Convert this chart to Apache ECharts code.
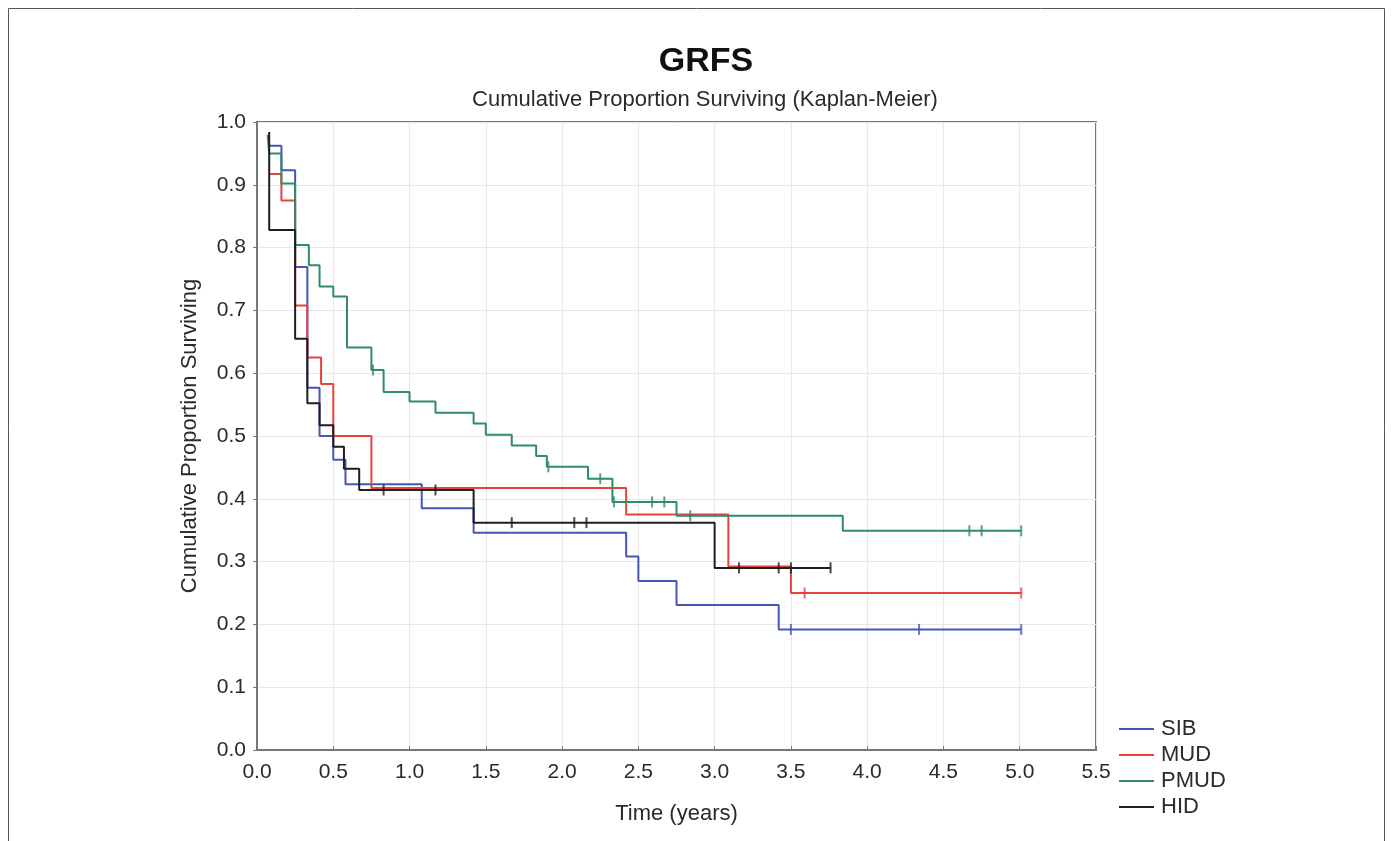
<!DOCTYPE html>
<html>
<head>
<meta charset="utf-8">
<title>GRFS</title>
<script src="https://cdn.jsdelivr.net/npm/echarts@6/dist/echarts.min.js"></script>
<style>
  html, body { margin: 0; padding: 0; background: #ffffff; }
  #chart { width: 1392px; height: 841px; }
</style>
</head>
<body>
<div id="chart"></div>
<script>
// Kaplan-Meier step points: time (years) and proportion surviving after each step
var sibTime = [0.08, 0.16, 0.25, 0.33, 0.41, 0.50, 0.58, 1.08, 1.42, 2.42, 2.50, 2.75, 3.42, 5.01];
var sibSurv = [0.962, 0.923, 0.769, 0.577, 0.500, 0.462, 0.423, 0.385, 0.346, 0.308, 0.269, 0.231, 0.192, 0.192];
var sibCensor = [3.50, 4.34, 5.01];

var mudTime = [0.08, 0.16, 0.25, 0.33, 0.42, 0.50, 0.75, 2.42, 3.09, 3.50, 5.01];
var mudSurv = [0.917, 0.875, 0.708, 0.625, 0.583, 0.500, 0.417, 0.375, 0.292, 0.250, 0.250];
var mudCensor = [3.59, 5.01];

var pmudTime = [0.07, 0.08, 0.16, 0.25, 0.34, 0.41, 0.50, 0.59, 0.75, 0.83, 1.00, 1.17, 1.42, 1.50, 1.67, 1.83, 1.90, 2.17, 2.33, 2.75, 3.84, 5.01];
var pmudSurv = [0.980, 0.950, 0.902, 0.804, 0.772, 0.738, 0.722, 0.641, 0.605, 0.570, 0.555, 0.537, 0.520, 0.502, 0.485, 0.468, 0.451, 0.432, 0.395, 0.373, 0.349, 0.349];
var pmudCensor = [0.76, 1.91, 2.25, 2.34, 2.59, 2.67, 2.84, 4.67, 4.75, 5.01];

var hidTime = [0.08, 0.08, 0.25, 0.33, 0.41, 0.50, 0.57, 0.67, 1.42, 3.00, 3.76];
var hidSurv = [0.984, 0.828, 0.655, 0.552, 0.517, 0.483, 0.448, 0.414, 0.362, 0.290, 0.290];
var hidCensor = [0.83, 1.17, 1.67, 2.08, 2.16, 3.16, 3.42, 3.50, 3.76];

var groupNames = ['SIB', 'MUD', 'PMUD', 'HID'];
var groupColors = ['#4656b8', '#e8423d', '#2e8c66', '#1e1e1e'];

var groups = [
  { time: sibTime, surv: sibSurv, censor: sibCensor },
  { time: mudTime, surv: mudSurv, censor: mudCensor },
  { time: pmudTime, surv: pmudSurv, censor: pmudCensor },
  { time: hidTime, surv: hidSurv, censor: hidCensor }
];

function pairs(t, s) {
  return t.map(function (v, i) { return [v, s[i]]; });
}

// survival level of the step curve at time t
function levelAt(t, times, surv) {
  var v = surv[0];
  for (var i = 0; i < times.length; i++) {
    if (times[i] <= t + 1e-9) v = surv[i];
  }
  return v;
}

var series = [];
groups.forEach(function (g, i) {
  series.push({
    name: groupNames[i],
    type: 'line',
    step: 'end',
    data: pairs(g.time, g.surv),
    showSymbol: false,
    symbol: 'none',
    lineStyle: { color: groupColors[i], width: 2 },
    itemStyle: { color: groupColors[i] },
    z: 2 + i,
    silent: true
  });
});
// censored observations drawn as short vertical ticks on each curve
groups.forEach(function (g, i) {
  series.push({
    name: groupNames[i] + ' censored',
    type: 'scatter',
    data: g.censor.map(function (t) { return [t, levelAt(t, g.time, g.surv)]; }),
    symbol: 'rect',
    symbolSize: [2, 11],
    itemStyle: { color: groupColors[i] },
    z: 10 + i,
    silent: true
  });
});

var axisGray = '#777777';
var textColor = '#2a2a2a';
var fontFam = '"Liberation Sans", Arial, Helvetica, sans-serif';

var chart = echarts.init(document.getElementById('chart'), null, { renderer: 'canvas' });
chart.setOption({
  animation: false,
  backgroundColor: '#ffffff',
  textStyle: { fontFamily: fontFam },
  grid: {
    left: 257, right: 296, top: 122, bottom: 91,
    show: true, borderColor: axisGray, borderWidth: 2
  },
  graphic: [
    {
      type: 'rect',
      shape: { x: 8.5, y: 8.5, width: 1376, height: 845 },
      style: { fill: 'none', stroke: '#555555', lineWidth: 1 },
      silent: true
    },
    {
      type: 'text', x: 706, y: 45,
      style: { text: 'GRFS', fontFamily: fontFam, fontSize: 34, fontWeight: 'bold', fill: '#111111', textAlign: 'center', textVerticalAlign: 'top' }
    },
    {
      type: 'text', x: 705, y: 89,
      style: { text: 'Cumulative Proportion Surviving (Kaplan-Meier)', fontFamily: fontFam, fontSize: 22, fill: textColor, textAlign: 'center', textVerticalAlign: 'top' }
    }
  ],
  legend: {
    data: groupNames,
    orient: 'vertical',
    left: 1119,
    top: 718,
    padding: 0,
    itemWidth: 35,
    itemHeight: 2,
    itemGap: 4,
    icon: 'rect',
    textStyle: { fontSize: 22, color: textColor, fontFamily: fontFam, padding: [0, 0, 0, 2] },
    selectedMode: false
  },
  xAxis: {
    type: 'value',
    min: 0, max: 5.5, interval: 0.5,
    name: 'Time (years)',
    nameLocation: 'middle',
    nameGap: 53,
    nameTextStyle: { fontSize: 22, color: textColor, fontFamily: fontFam },
    axisLine: { show: true, lineStyle: { color: axisGray, width: 2 } },
    axisTick: { show: true, inside: true, length: 4, lineStyle: { color: axisGray } },
    axisLabel: {
      fontSize: 21, color: textColor, margin: 12,
      formatter: function (v) { return v.toFixed(1); }
    },
    splitLine: { show: true, lineStyle: { color: '#e8e8e8', width: 1 } }
  },
  yAxis: {
    type: 'value',
    min: 0, max: 1, interval: 0.1,
    name: 'Cumulative Proportion Surviving',
    nameLocation: 'middle',
    nameGap: 56,
    nameTextStyle: { fontSize: 22, color: textColor, fontFamily: fontFam },
    axisLine: { show: true, lineStyle: { color: axisGray, width: 2 } },
    axisTick: { show: true, inside: false, length: 4, lineStyle: { color: axisGray } },
    axisLabel: {
      fontSize: 21, color: textColor, margin: 11,
      formatter: function (v) { return v.toFixed(1); }
    },
    splitLine: { show: true, lineStyle: { color: '#e8e8e8', width: 1 } }
  },
  series: series
});
</script>
</body>
</html>
